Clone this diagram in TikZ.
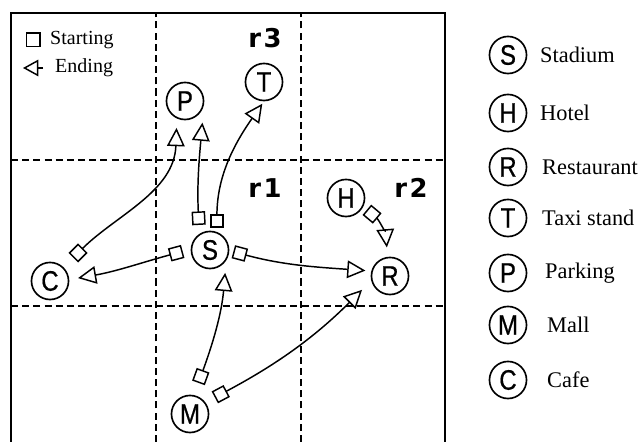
\documentclass[tikz,border=0pt]{standalone}
\usepackage{fontspec}
\setmainfont{Liberation Serif}
\newfontfamily\placefont{Liberation Sans}[FakeStretch=0.85,FakeBold=0.6]
\newfontfamily\regionfont{DejaVu Sans}
\usetikzlibrary{arrows.meta}

\begin{document}
\begin{tikzpicture}[x=0.85pt,y=0.85pt,
  place/.style={draw, circle, line width=1.4pt, minimum size=31.5pt, inner sep=0pt,
    font=\placefont\fontsize{24}{24}\selectfont},
  route/.style={line width=1.25pt, shorten <=7pt, shorten >=8pt,
    {Square[open,length=11.5pt,width=11.5pt]}-{Triangle[open,length=15.5pt,width=15pt]}},
  grid/.style={line width=1pt, dash pattern=on 6pt off 3.5pt},
  region/.style={font=\regionfont\bfseries\fontsize{22}{22}\selectfont},
  keytext/.style={anchor=west, inner sep=0pt, font=\fontsize{19}{19}\selectfont}]
 \useasboundingbox (0,0) rectangle (641,442);
 \draw[line width=1.4pt] (11,0) -- (11,429) -- (445,429) -- (445,0);
 \draw[grid] (156,0) -- (156,429);
 \draw[grid] (301,0) -- (301,429);
 \draw[grid] (11,282) -- (445,282);
 \draw[grid] (11,136) -- (445,136);

 \node[draw, line width=1.25pt, minimum size=11.5pt, inner sep=0pt] (startkey) at (33,402) {};
 \node[anchor=west, inner sep=0pt, font=\fontsize{17}{17}\selectfont] at (50,402) {Starting};
 \coordinate (endkey) at (43,374);
 \draw[line width=1.25pt, -{Triangle[open,length=13pt,width=14pt]}] (endkey) -- ++(-20,0);
 \node[anchor=west, inner sep=0pt, font=\fontsize{17}{17}\selectfont] at (55,374) {Ending};

 \node[region] at (265,404) {r\kern2pt3};
 \node[region] at (265,254) {r\kern2pt1};
 \node[region] at (411,254) {r\kern2pt2};

 \node[place] (P) at (185,341) {P};
 \node[place] (T) at (264,360) {T};
 \node[place] (S) at (210,192) {S};
 \node[place] (C) at (50,161) {C};
 \node[place] (M) at (190,28) {M};
 \node[place] (H) at (346,244) {H};
 \node[place] (R) at (390,166) {R};

 \draw[route, shorten <=11.5pt, shorten >=8pt] (C.45) to[out=45,in=-92] (P.-115);
 \draw[route, shorten <=7.5pt, shorten >=15pt] (S.123) to[out=93,in=-95] (P.-12);
 \draw[route, shorten <=3.5pt, shorten >=2.5pt] (S.69) to[out=90,in=-125] (T.-90);
 \draw[route, shorten <=7pt, shorten >=7.5pt] (S.178) to[out=195,in=10] (C.4);
 \draw[route, shorten <=3.5pt, shorten >=5pt] (S.-2) to[out=-15,in=176] (R.165);
 \draw[route, shorten <=11pt, shorten >=10.5pt] (M.78) to[out=70,in=-95] (S.-33);
 \draw[route, shorten <=9pt, shorten >=11pt] (M.37) to[out=28,in=-135] (R.-166);
 \draw[route, shorten <=4pt, shorten >=8pt] (H.-27) to[out=-40,in=95] (R.97);

 \foreach \y/\l/\t/\d in {387/S/Stadium/540, 329/H/Hotel/540, 275/R/Restaurant/542,
   224/T/Taxi stand/542, 169/P/Parking/545, 117/M/Mall/547, 62/C/Cafe/547} {
  \node[place] (key\l) at (508,\y) {\l};
  \node[keytext] at (\d,\y) {\t};
 }
\end{tikzpicture}
\end{document}
